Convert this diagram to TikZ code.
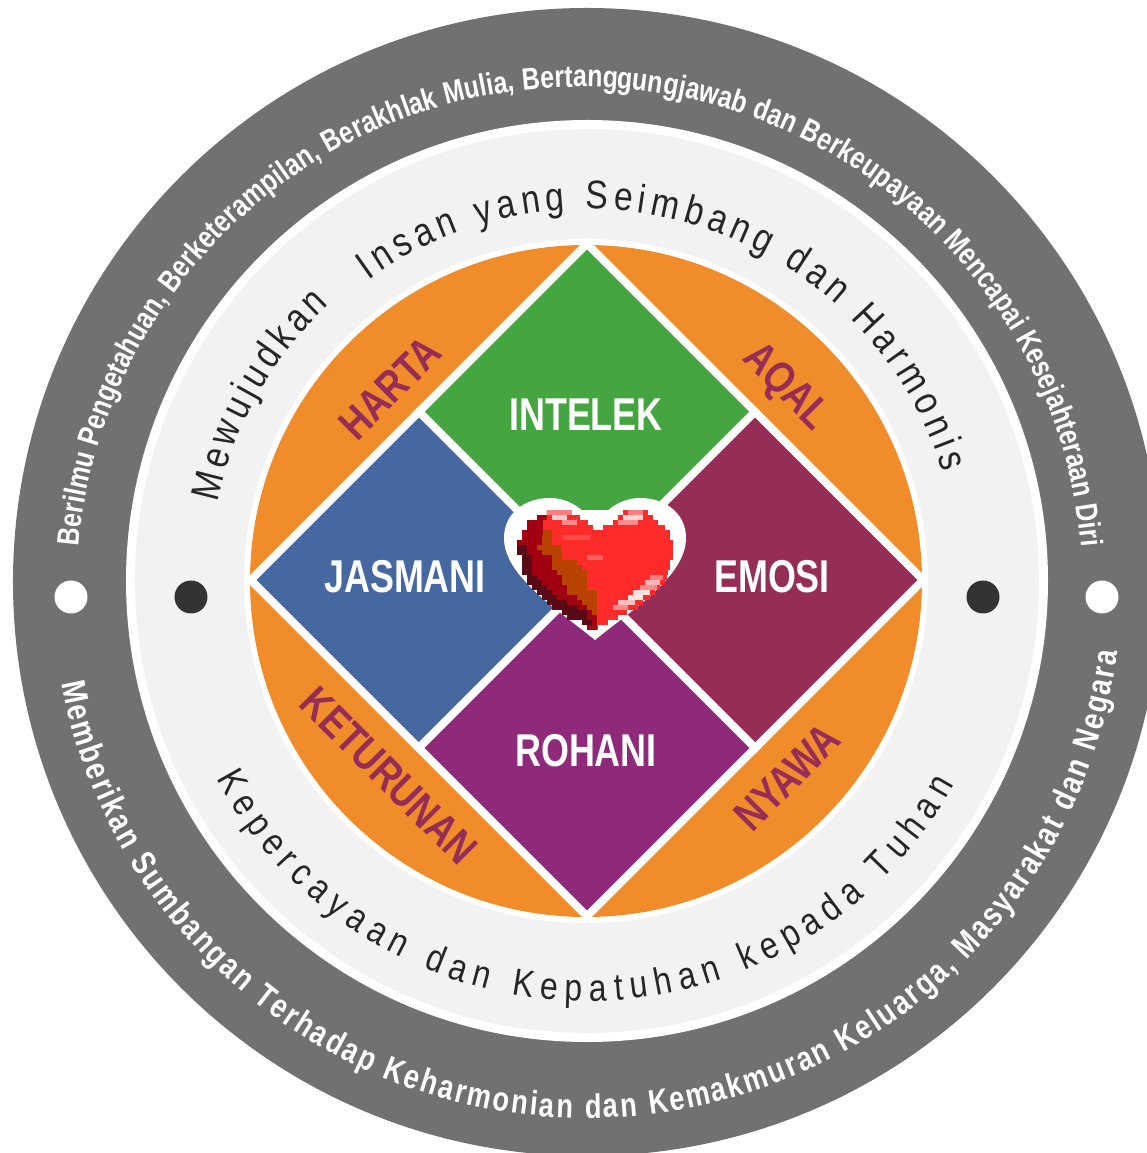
\documentclass[tikz,border=0pt]{standalone}
\usepackage{xcolor}
\usepackage{fontspec}
\usepackage{tikz}
\usetikzlibrary{shapes.geometric,decorations.text}
\setmainfont{Liberation Sans}
\newfontfamily\bandfont[FakeStretch=0.80]{Liberation Sans Bold}
\newfontfamily\ringfont[FakeStretch=0.84]{Liberation Sans}
\newfontfamily\labelfont[FakeStretch=0.78]{Liberation Sans Bold}
\newfontfamily\cornerfont[FakeStretch=0.82]{Liberation Sans Bold}
\definecolor{bandgrey}{HTML}{717171}
\definecolor{ringgrey}{HTML}{F2F2F2}
\definecolor{dotgrey}{HTML}{333333}
\definecolor{petalorange}{HTML}{F18C2B}
\definecolor{inteleggreen}{HTML}{45A540}
\definecolor{jasmaniblue}{HTML}{44689F}
\definecolor{emosiplum}{HTML}{962D56}
\definecolor{rohanipurple}{HTML}{8F297A}
\definecolor{heartred}{HTML}{FF2A2A}
\definecolor{heartdark}{HTML}{A00010}
\definecolor{heartdeep}{HTML}{5A0A14}
\definecolor{heartbrown}{HTML}{B84300}
\begin{document}
\begin{tikzpicture}[
    x=1pt, y=1pt,
    petal/.style={diamond, aspect=1, draw=white, line width=8pt, minimum width=336.6pt, minimum height=336.6pt, inner sep=0pt, outer sep=0pt},
    petaltext/.style={text=white, font=\labelfont\fontsize{46}{46}\selectfont, inner sep=0pt},
    cornertext/.style={text=emosiplum, font=\cornerfont\fontsize{44}{44}\selectfont, inner sep=0pt},
    ringdot/.style={circle, minimum size=33pt, inner sep=0pt, outer sep=0pt},
    curvetext/.style={decorate, decoration={text along path, text align={fit to path}, text={#1}}}
  ]
  \useasboundingbox (-587,-572) rectangle (560,581);
  \fill[white] (-587,-572) rectangle (560,581);

  % Rings
  \fill[bandgrey] (0,-1) circle (574);
  \fill[white] (0,0) circle (461);
  \fill[ringgrey] (0,0) circle (452);
  \fill[white] (-1,0) circle (342);
  \fill[petalorange] (-1,0) circle (336);

  % Diamonds
  \node[petal, fill=inteleggreen] (intelek) at (0,169) {};
  \node[petal, fill=jasmaniblue] (jasmani) at (-168,1) {};
  \node[petal, fill=emosiplum] (emosi) at (168,1) {};
  \node[petal, fill=rohanipurple] (rohani) at (0,-167) {};

  % Labels
  \node[petaltext] (intelekText) at (-1,166) {INTELEK};
  \node[petaltext] (jasmaniText) at (-182,4) {JASMANI};
  \node[petaltext] (emosiText) at (185,4) {EMOSI};
  \node[petaltext] (rohaniText) at (-1,-170) {ROHANI};
  \node[cornertext, rotate=45] (harta) at (-197,193) {HARTA};
  \node[cornertext, rotate=-45] (aqal) at (198,193) {AQAL};
  \node[cornertext, rotate=-45] (keturunan) at (-198,-195) {KETURUNAN};
  \node[cornertext, rotate=45] (nyawa) at (200,-196) {NYAWA};

  % Dots
  \node[ringdot, fill=white] (dotOutL) at (-516,-16) {};
  \node[ringdot, fill=white] (dotOutR) at (515,-16) {};
  \node[ringdot, fill=dotgrey] (dotInL) at (-396,-16) {};
  \node[ringdot, fill=dotgrey] (dotInR) at (396,-16) {};

  % Curved text
  \path[shift={(-7,-9)}, curvetext={|\color{white}\bandfont\fontsize{31}{31}\selectfont|Berilmu Pengetahuan, Berketerampilan, Berakhlak Mulia, Bertanggungjawab dan Berkeupayaan Mencapai Kesejahteraan Diri}]
    (175:503) arc[start angle=175, end angle=5, radius=503];
  \path[shift={(0,-2)}, curvetext={|\color{white}\bandfont\fontsize{34}{34}\selectfont|Memberikan Sumbangan Terhadap Keharmonian dan Kemakmuran Keluarga, Masyarakat dan Negara}]
    (190.8:535) arc[start angle=190.8, end angle=352.6, radius=535];
  \path[curvetext={|\color{black!85}\ringfont\fontsize{40}{40}\selectfont|Mewujudkan}]
    (168:378) arc[start angle=168, end angle=133, radius=378];
  \path[curvetext={|\color{black!85}\ringfont\fontsize{40}{40}\selectfont|Insan yang Seimbang dan Harmonis}]
    (126:372) arc[start angle=126, end angle=17, radius=372];
  \path[curvetext={|\color{black!85}\ringfont\fontsize{38}{38}\selectfont|Kepercayaan dan Kepatuhan kepada Tuhan}]
    (208:420) arc[start angle=208, end angle=331, radius=420];

  % Heart
  \fill[white] (8,-59) .. controls (-30,-28) and (-83,5) .. (-83,43) .. controls (-83,68) and (-62,83) .. (-37,83) .. controls (-17,83) and (0,70) .. (8,54) .. controls (16,70) and (33,83) .. (53,83) .. controls (78,83) and (99,68) .. (99,43) .. controls (99,5) and (46,-28) .. (8,-59) -- cycle;
  \begin{scope}[shift={(-107,111)}, x=0.3333pt, y=-0.3333pt]
    \foreach \r/\a/\m/\b/\e in {120/200/200/200/505, 135/170/200/200/520, 150/140/190/190/535, 165/140/190/190/555,
      180/125/190/215/570, 195/125/185/215/570, 210/110/185/215/580, 225/110/170/245/580, 240/110/185/245/580,
      255/125/215/245/580, 270/125/215/290/570, 285/125/215/305/570, 300/125/230/320/565, 315/140/245/320/560,
      330/140/245/320/555, 345/155/260/320/540, 360/170/260/350/525, 375/185/290/350/510, 390/200/305/350/490,
      405/215/320/350/475, 420/245/335/350/440, 435/260/350/350/415, 450/305/350/350/385, 465/320/350/350/355} {
      \fill[heartred] (\a,\r) rectangle (\e,\r+16);
      \fill[heartdark] (\a,\r) rectangle (\m,\r+16);
      \fill[heartbrown] (\m,\r) rectangle (\b,\r+16);
    }
    \foreach \r/\a/\b in {225/110/140, 240/110/140, 255/125/155, 270/125/155, 285/125/155, 300/125/155, 315/140/170,
      330/140/185, 345/155/200, 360/170/215, 375/185/230, 390/200/260, 405/215/290, 420/245/320, 435/260/320, 450/305/335}
      \fill[heartdeep] (\a,\r) rectangle (\b,\r+16);
    \foreach \r/\a/\b in {120/275/430, 135/300/415, 150/325/400, 165/340/370}
      \fill[white] (\a,\r) rectangle (\b,\r+16);
    \foreach \r/\a/\b/\c in {120/200/275/white!40!heartred, 135/215/260/white!75!heartred, 150/245/290/white!45!heartred,
      120/445/490/white!40!heartred, 135/430/490/white!80!heartred, 150/415/475/white!45!heartred,
      195/250/330/white!15!heartred, 255/320/370/white!25!heartred, 315/510/550/white!40!heartred, 330/495/540/white!65!heartred,
      345/480/530/white!45!heartred, 360/460/510/white!85!heartred, 375/445/490/white!90!heartred,
      390/415/465/white!70!heartred, 405/400/445/white!45!heartred}
      \fill[\c] (\a,\r) rectangle (\b,\r+16);
  \end{scope}
\end{tikzpicture}
\end{document}
